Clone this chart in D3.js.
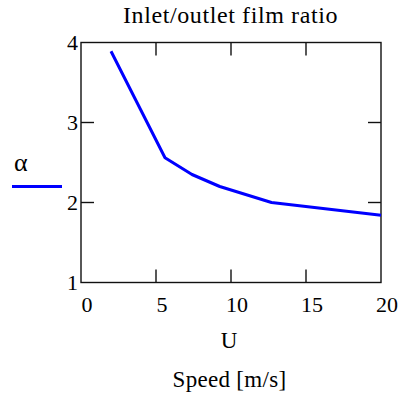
<!DOCTYPE html>
<html>
<head>
<meta charset="utf-8">
<script src="https://cdn.jsdelivr.net/npm/d3@7"></script>
<style>
  body { margin: 0; background: #fff; }
  svg { display: block; }
  text { font-family: "Liberation Serif", "Times New Roman", serif; fill: #000; }
</style>
</head>
<body>
<svg id="chart"></svg>
<script>
'use strict';

var speed = [2, 5.6, 7.4, 9.25, 12.7, 20];
var alpha = [3.89, 2.56, 2.35, 2.2, 2.0, 1.84];
var x_ticks = [0, 5, 10, 15, 20];
var y_ticks = [1, 2, 3, 4];
var title_text = 'Inlet/outlet film ratio';
var x_var = 'U';
var x_label = 'Speed [m/s]';
var legend_label = '\u03b1';

var width = 398, height = 398;
var plot_left = 81, plot_right = 381, plot_top = 42.5, plot_bottom = 282.5;
var tick_len = 13;
var font_size = 22;

var svg = d3.select('#chart').attr('width', width).attr('height', height);

var x = d3.scaleLinear().domain([0, 20]).range([plot_left, plot_right]);
var y = d3.scaleLinear().domain([1, 4]).range([plot_bottom, plot_top]);

// frame
svg.append('rect').attr('x', plot_left).attr('y', plot_top)
  .attr('width', plot_right - plot_left).attr('height', plot_bottom - plot_top)
  .attr('fill', 'none').attr('stroke', '#111').attr('stroke-width', 1.4);

// inward ticks on all four sides
var inner_x = x_ticks.slice(1, -1);
var inner_y = y_ticks.slice(1, -1);
var tick_g = svg.append('g').attr('stroke', '#111').attr('stroke-width', 1.4);
inner_x.forEach(function (d) {
  tick_g.append('line').attr('x1', x(d)).attr('x2', x(d)).attr('y1', plot_bottom).attr('y2', plot_bottom - tick_len);
  tick_g.append('line').attr('x1', x(d)).attr('x2', x(d)).attr('y1', plot_top).attr('y2', plot_top + tick_len);
});
inner_y.forEach(function (d) {
  tick_g.append('line').attr('x1', plot_left).attr('x2', plot_left + tick_len).attr('y1', y(d)).attr('y2', y(d));
  tick_g.append('line').attr('x1', plot_right).attr('x2', plot_right - tick_len).attr('y1', y(d)).attr('y2', y(d));
});

// tick labels
svg.selectAll('.x-label').data(x_ticks).enter().append('text')
  .attr('class', 'x-label').attr('text-anchor', 'middle')
  .attr('x', function (d) { return x(d) + 6; }).attr('y', plot_bottom + 29.5)
  .style('font-size', font_size + 'px').text(function (d) { return d; });

svg.selectAll('.y-label').data(y_ticks).enter().append('text')
  .attr('class', 'y-label').attr('text-anchor', 'end')
  .attr('x', plot_left - 3).attr('y', function (d) { return y(d) + 7.5; })
  .style('font-size', font_size + 'px').text(function (d) { return d; });

// series
var line = d3.line().x(function (d, i) { return x(speed[i]); }).y(function (d) { return y(d); });
svg.append('path').datum(alpha).attr('d', line)
  .attr('fill', 'none').attr('stroke', '#0000ff').attr('stroke-width', 3).attr('stroke-linejoin', 'round');

// titles (reference glyphs run a little wider than Liberation Serif)
svg.append('text').attr('text-anchor', 'middle').attr('x', 230.5).attr('y', 23)
  .style('font-size', '24px').style('letter-spacing', '0.6px').text(title_text);
svg.append('text').attr('text-anchor', 'middle').attr('x', 229).attr('y', 348)
  .style('font-size', '23px').text(x_var);
svg.append('text').attr('text-anchor', 'middle').attr('x', 229.5).attr('y', 387)
  .style('font-size', '23px').style('letter-spacing', '0.3px').text(x_label);

// legend
svg.append('text').attr('x', 14).attr('y', 171)
  .style('font-size', '26px').text(legend_label);
svg.append('line').attr('x1', 12).attr('x2', 62).attr('y1', 186.5).attr('y2', 186.5)
  .attr('stroke', '#0000ff').attr('stroke-width', 3);
</script>
</body>
</html>
